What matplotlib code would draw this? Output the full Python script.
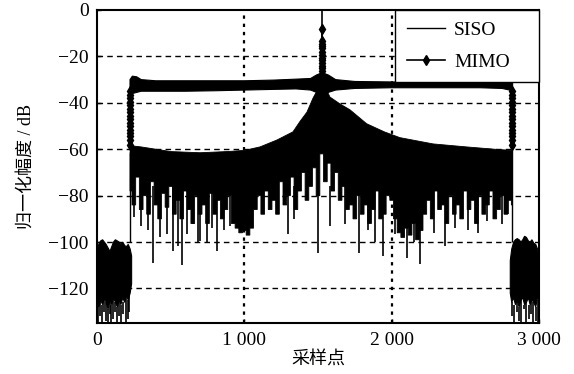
import matplotlib.pyplot as plt
import numpy as np
from matplotlib.lines import Line2D

plt.rcParams['font.family'] = ['Liberation Serif', 'Noto Sans CJK SC']

# ---- data ----
# SISO: upper envelope of the spectrum (smooth, with the cone at the centre)
siso_top_x = [224, 232, 300, 500, 700, 882, 1000, 1106, 1222, 1330, 1378, 1425,
              1466, 1500, 1527, 1555, 1581, 1650, 1717, 1830, 1950, 2056, 2281,
              2509, 2700, 2815, 2820]
siso_top_y = [-62, -58.5, -59, -61, -61.5, -61, -60.5, -59, -56, -52.5, -48, -44,
              -38, -34, -32, -34, -37.5, -40.5, -43, -49, -52.5, -55, -57.7,
              -59, -60, -60.5, -62]

# SISO: lower edge of the solid part, every 25 samples from 225 to 2825
siso_floor_y = [-78, -84, -72, -86, -80, -88, -74, -84, -90, -79,
                -85, -76, -88, -82, -90, -78, -86, -92, -80, -88,
                -84, -92, -79, -88, -82, -90, -86, -80, -92, -94,
                -96, -95, -97, -94, -86, -80, -88, -78, -86, -82,
                -88, -74, -84, -80, -72, -86, -78, -70, -82, -76,
                -68, -80, -62, -74, -66, -78, -70, -82, -76, -86,
                -84, -90, -80, -88, -84, -92, -86, -78, -90, -88,
                -80, -82, -90, -96, -98, -94, -97, -92, -99, -95,
                -88, -82, -90, -78, -86, -84, -92, -80, -88, -84,
                -90, -78, -86, -82, -92, -80, -88, -84, -78, -90,
                -86, -80, -88, -82, -84]

# SISO: deep downward spikes
siso_spike_x = [250, 300, 345, 382, 430, 472, 518, 551, 575, 609,
                650, 686, 699, 744, 780, 812, 860, 905, 1296, 1340,
                1502, 1581, 1680, 1778, 1840, 1887, 1939, 2022, 2102, 2150,
                2192, 2290, 2362, 2430, 2520, 2587, 2650, 2747, 2790]
siso_spike_lo = [-89, -93, -95, -109, -98, -96.5, -104, -101.5, -110, -96.5,
                 -92, -100, -99.5, -100, -94, -104, -95, -93, -96.5, -90,
                 -104.5, -93, -92, -104.5, -95, -100, -106, -96.5, -107, -100,
                 -109.5, -96, -101.5, -94, -95, -96, -91, -92, -88]

# MIMO: flat in-band level (upper and lower edge of the thick band)
mimo_x = [224, 240, 270, 300, 400, 600, 800, 1000, 1200, 1350, 1450, 1490,
          1528, 1570, 1620, 1750, 2000, 2200, 2400, 2600, 2750, 2800, 2821]
mimo_hi = [-30, -28.5, -28.8, -30, -30.5, -30.5, -30.5, -30.5, -30.2, -29.8,
           -29.5, -28, -27, -28, -30, -30.8, -31, -31, -31, -31, -30.8, -30.5, -30.5]
mimo_lo = [-35, -36, -35.5, -35, -35, -35, -34.8, -34.5, -34.2, -34, -34.5,
           -35.5, -36, -35.5, -34.5, -33.8, -33.5, -33.5, -33.5, -33.5, -33.8,
           -34.5, -35]

# MIMO: band edges and central peak
mimo_edge_y = [-35, -36.5, -38, -39.5, -41, -42.5, -44, -45.5, -47, -48.5,
               -50, -51.5, -53, -54.5, -56, -58]
mimo_peak_y = [-8, -13.5, -14.5, -15.5, -16.5, -18, -19.5, -20.5, -21.5,
               -23, -24, -25, -26.5, -28, -29.5]

# out-of-band noise (left and right)
noise_l_x = [0, 12, 25, 38, 50, 62, 75, 88, 100, 112, 125, 138, 150, 162, 175,
             188, 200, 212, 225, 235]
noise_l_top = [-104, -101, -99.5, -99, -100, -101, -102.5, -104, -102, -100,
               -99, -99.5, -100, -101, -100, -101.5, -102, -101, -103, -106]
noise_l_bot = [-126, -128, -125, -127, -124, -126, -129, -125, -127, -124,
               -126, -128, -125, -127, -124, -126, -123, -125, -122, -118]
noise_l_spike_x = [8, 22, 35, 48, 60, 72, 85, 98, 110, 122, 135, 150, 162, 178,
                   195, 208, 220]
noise_l_spike_lo = [-135, -132, -135, -130, -134, -135, -131, -135, -133, -130,
                    -135, -132, -135, -131, -135, -133, -130]

noise_r_x = [2805, 2815, 2828, 2840, 2852, 2865, 2878, 2890, 2902, 2915, 2928,
             2940, 2952, 2965, 2978, 2990, 3000]
noise_r_top = [-108, -103, -100, -99, -98.5, -99, -100, -99, -97.5, -98, -99.5,
               -100, -99, -100.5, -101, -103, -105]
noise_r_bot = [-122, -126, -124, -127, -125, -128, -125, -124, -127, -126, -124,
               -127, -125, -126, -128, -124, -125]
noise_r_spike_x = [2815, 2830, 2848, 2862, 2880, 2895, 2912, 2930, 2945, 2960,
                   2978, 2992]
noise_r_spike_lo = [-132, -135, -130, -134, -135, -129, -135, -133, -131, -135,
                    -134, -135]

x_ticks = [0, 1000, 2000, 3000]
x_ticklabels = ['0', '1 000', '2 000', '3 000']
y_ticks = [-120, -100, -80, -60, -40, -20, 0]
y_ticklabels = ['−120', '−100', '−80', '−60', '−40', '−20', '0']

FLOOR_START, FLOOR_STEP = 225, 25
SPIKE_TOP = -76
EDGE_L, EDGE_R, PEAK_X = 226, 2815, 1528

# ---- figure ----
fig = plt.figure(figsize=(5.74, 3.74), dpi=100)
ax = fig.add_axes([97 / 574, 1 - 323.3 / 374, 442 / 574, 313.3 / 374])

# grid lines (drawn under the data)
for y in [-20, -40, -60, -80, -100, -120]:
    ax.axhline(y, color='k', lw=1.0, ls=(0, (4, 3)), zorder=0.5)
for x in [1000, 2000]:
    ax.axvline(x, color='k', lw=1.6, ls=(0, (1.5, 2.2)), zorder=0.5)

# noise blobs
for nx, nt, nb, sx, sl in [(noise_l_x, noise_l_top, noise_l_bot, noise_l_spike_x, noise_l_spike_lo),
                           (noise_r_x, noise_r_top, noise_r_bot, noise_r_spike_x, noise_r_spike_lo)]:
    ax.fill(list(nx) + list(nx)[::-1], list(nt) + list(nb)[::-1], color='k', lw=0.8, ec='k')
    ax.vlines(sx, sl, np.array(nb)[np.searchsorted(nx, sx).clip(0, len(nx) - 1)],
              color='k', lw=1.2)

# SISO body
floor_x = FLOOR_START + FLOOR_STEP * np.arange(len(siso_floor_y))
fx = np.column_stack([floor_x - FLOOR_STEP / 2, floor_x + FLOOR_STEP / 2]).ravel()
fx = fx.clip(siso_top_x[0], siso_top_x[-1])
fy = np.repeat(siso_floor_y, 2)
ax.fill(np.concatenate([siso_top_x, fx[::-1]]), np.concatenate([siso_top_y, fy[::-1]]),
        color='k', lw=0.6, ec='k')
ax.vlines(siso_spike_x, siso_spike_lo, SPIKE_TOP, color='k', lw=1.2)
ax.vlines([EDGE_L, EDGE_R], -100, -60, color='k', lw=1.0)
ax.vlines(PEAK_X, -33, 0, color='k', lw=1.2)

# MIMO band
ax.fill(mimo_x + mimo_x[::-1], mimo_hi + mimo_lo[::-1], color='k', lw=0.8, ec='k')
for ex in [224, 2818]:
    ax.plot([ex] * len(mimo_edge_y), mimo_edge_y, color='k', lw=1.2,
            marker='d', ms=5, mfc='k', mec='k')
ax.plot([PEAK_X] * len(mimo_peak_y), mimo_peak_y, color='k', lw=1.2,
        marker='d', ms=5, mfc='k', mec='k')

ax.set_xlim(0, 3000)
ax.set_ylim(-135, 0)
ax.set_xticks(x_ticks)
ax.set_xticklabels(x_ticklabels)
ax.set_yticks(y_ticks)
ax.set_yticklabels(y_ticklabels)
ax.tick_params(direction='in', length=3, width=1, labelsize=14, pad=6)
for s in ax.spines.values():
    s.set_linewidth(1.5)

ax.set_xlabel('采样点', fontsize=13, labelpad=2)
ax.set_ylabel('归一化幅度 / dB', fontsize=13, labelpad=10)

handles = [Line2D([], [], color='k', lw=1.0),
           Line2D([], [], color='k', lw=1.2, marker='d', ms=5)]
leg = ax.legend(handles, ['SISO', 'MIMO'], loc='upper left',
                bbox_to_anchor=(0.674, 0, 0.326, 1), mode='expand',
                borderaxespad=0, fontsize=14, fancybox=False, framealpha=1,
                edgecolor='k', handlelength=2.0, handletextpad=0.45,
                borderpad=0.6, labelspacing=0.7)
leg.get_frame().set_linewidth(1.0)

fig.savefig('out.png', dpi=100)
